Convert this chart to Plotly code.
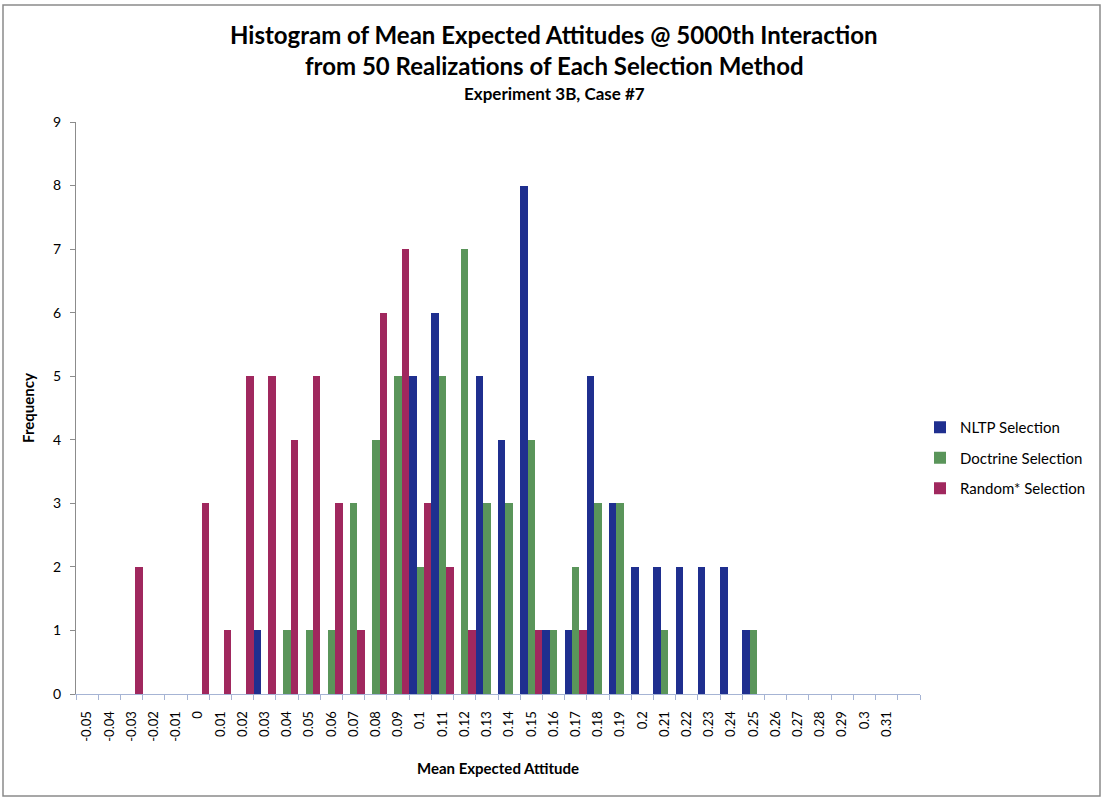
import plotly.graph_objects as go

categories = ["-0.05", "-0.04", "-0.03", "-0.02", "-0.01", "0", "0.01", "0.02", "0.03", "0.04",
              "0.05", "0.06", "0.07", "0.08", "0.09", "0.1", "0.11", "0.12", "0.13", "0.14",
              "0.15", "0.16", "0.17", "0.18", "0.19", "0.2", "0.21", "0.22", "0.23", "0.24",
              "0.25", "0.26", "0.27", "0.28", "0.29", "0.3", "0.31", " "]

nltp = [0, 0, 0, 0, 0, 0, 0, 0, 1, 0,
        0, 0, 0, 0, 0, 5, 6, 0, 5, 4,
        8, 1, 1, 5, 3, 2, 2, 2, 2, 2,
        1, 0, 0, 0, 0, 0, 0, 0]
doctrine = [0, 0, 0, 0, 0, 0, 0, 0, 0, 1,
            1, 1, 3, 4, 5, 2, 5, 7, 3, 3,
            4, 1, 2, 3, 3, 0, 1, 0, 0, 0,
            1, 0, 0, 0, 0, 0, 0, 0]
random_sel = [0, 0, 2, 0, 0, 3, 1, 5, 5, 4,
              5, 3, 1, 6, 7, 3, 2, 1, 0, 0,
              1, 0, 1, 0, 0, 0, 0, 0, 0, 0,
              0, 0, 0, 0, 0, 0, 0, 0]

series_names = ["NLTP Selection", "Doctrine Selection", "Random* Selection"]
series_colors = ["#1f2f8f", "#5a955a", "#a0285e"]

FONT = "Lato, 'Open Sans', sans-serif"

fig = go.Figure()
for i, (name, vals, col) in enumerate(zip(series_names, [nltp, doctrine, random_sel], series_colors)):
    fig.add_trace(go.Bar(
        x=categories, y=vals, name=name,
        marker=dict(color=col, line=dict(width=0)),
        legendgroup=f"g{i}",
    ))

W, H = 1103, 799
L, R, T, B = 76, 183, 122, 105
pw, ph = W - L - R, H - T - B

def px(x):
    return (x - L) / pw

def py(y):
    return (H - B - y) / ph

fig.update_layout(
    width=W, height=H,
    margin=dict(l=L, r=R, t=T, b=B),
    paper_bgcolor="white", plot_bgcolor="white",
    barmode="group", bargap=0, bargroupgap=0,
    font=dict(family=FONT, color="#000000", size=13),
    showlegend=True,
    legend=dict(x=px(920), y=py(411), xanchor="left", yanchor="top",
                font=dict(size=15, family=FONT), tracegroupgap=8,
                itemwidth=30, bgcolor="rgba(0,0,0,0)"),
    xaxis=dict(
        type="category", tickangle=-90, tickson="boundaries",
        ticks="outside", ticklen=5, tickcolor="#a6b4d4",
        showline=True, linecolor="#a6b4d4", linewidth=1,
        showgrid=False, zeroline=False, ticklabelstandoff=11,
        tickfont=dict(size=13, family=FONT),
        title=dict(text="<b>Mean Expected Attitude</b>", font=dict(size=15, family=FONT), standoff=22),
    ),
    yaxis=dict(
        range=[0, 9], dtick=1, ticks="outside", ticklen=5, tickcolor="#8c8c8c",
        showline=True, linecolor="#8c8c8c", linewidth=1,
        showgrid=False, zeroline=False, ticklabelstandoff=6,
        tickfont=dict(size=14, family=FONT),
        title=dict(text="<b>Frequency</b>", font=dict(size=15, family=FONT), standoff=14),
    ),
    annotations=[
        dict(text="<b>Histogram of Mean Expected Attitudes @ 5000th Interaction</b>",
             x=px(554), y=py(34), xref="paper", yref="paper", showarrow=False,
             font=dict(size=24, family=FONT), xanchor="center", yanchor="middle"),
        dict(text="<b>from 50 Realizations of Each Selection Method</b>",
             x=px(554), y=py(65), xref="paper", yref="paper", showarrow=False,
             font=dict(size=24, family=FONT), xanchor="center", yanchor="middle"),
        dict(text="<b>Experiment 3B, Case #7</b>",
             x=px(554), y=py(93), xref="paper", yref="paper", showarrow=False,
             font=dict(size=17, family=FONT), xanchor="center", yanchor="middle"),
    ],
    shapes=[
        dict(type="rect", xref="paper", yref="paper",
             x0=px(3), x1=px(1100), y0=py(796), y1=py(5),
             line=dict(color="#8a8a8a", width=1.5), fillcolor="rgba(0,0,0,0)", layer="below"),
    ],
)

fig.write_html("out.html", config={"displayModeBar": False},
               post_script="document.body.style.margin='0px';document.body.style.overflow='hidden';")
